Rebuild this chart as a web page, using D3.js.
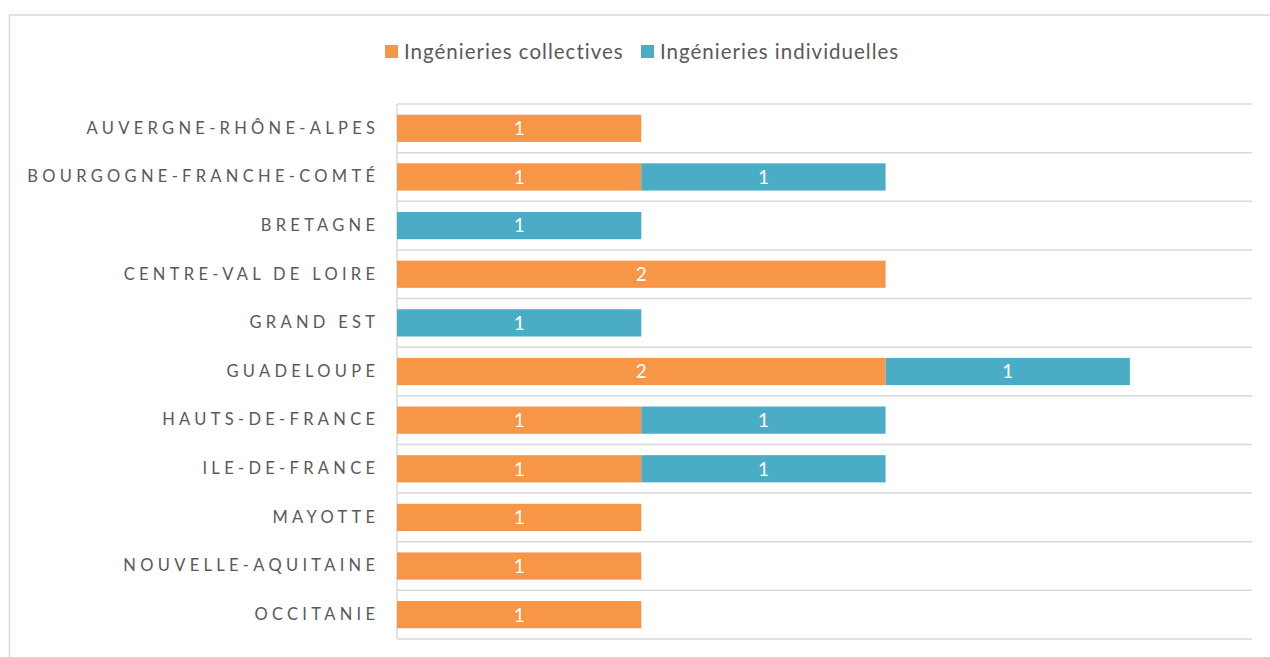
<!doctype html>
<html lang="fr">
<head>
<meta charset="UTF-8">
<title>Ingénieries par région</title>
<style>
  body { margin: 0; background: #fff; }
  svg text { font-family: Lato, "Open Sans", sans-serif; }
</style>
</head>
<body>
<div class="container"></div>
<script src="https://d3js.org/d3.v7.min.js"></script>
<script>
  const regions = ['AUVERGNE-RHÔNE-ALPES', 'BOURGOGNE-FRANCHE-COMTÉ', 'BRETAGNE', 'CENTRE-VAL DE LOIRE',
    'GRAND EST', 'GUADELOUPE', 'HAUTS-DE-FRANCE', 'ILE-DE-FRANCE', 'MAYOTTE', 'NOUVELLE-AQUITAINE', 'OCCITANIE'];
  const collectives = [1, 1, 0, 2, 0, 2, 1, 1, 1, 1, 1];
  const individuelles = [0, 1, 1, 0, 1, 1, 1, 1, 0, 0, 0];
  const seriesNames = ['Ingénieries collectives', 'Ingénieries individuelles'];
  const colors = ['#F79646', '#4BACC6'];

  const W = 1270, H = 657;
  const plot = { left: 397, right: 1252, top: 104, bottom: 639 };

  const svg = d3.select('.container').append('svg')
    .attr('width', W).attr('height', H);

  // outer frame (only top and left visible)
  svg.append('line').attr('x1', 9).attr('x2', W).attr('y1', 15).attr('y2', 15)
    .attr('stroke', '#d9d9d9').attr('stroke-width', 1.5);
  svg.append('line').attr('x1', 9.5).attr('x2', 9.5).attr('y1', 15).attr('y2', H)
    .attr('stroke', '#d9d9d9').attr('stroke-width', 1.5);

  const x = d3.scaleLinear().domain([0, 3.5]).range([plot.left, plot.right]);
  const y = d3.scaleBand().domain(regions).range([plot.top, plot.bottom]).paddingInner(0.44).paddingOuter(0.22);

  // horizontal separators between categories
  const lines = d3.range(regions.length + 1).map(i => plot.top + i * (plot.bottom - plot.top) / regions.length);
  svg.append('g').selectAll('line').data(lines).enter().append('line')
    .attr('x1', plot.left).attr('x2', plot.right)
    .attr('y1', d => d).attr('y2', d => d)
    .attr('stroke', '#d9d9d9').attr('stroke-width', 1.5);
  svg.append('line').attr('x1', plot.left).attr('x2', plot.left)
    .attr('y1', plot.top).attr('y2', plot.bottom)
    .attr('stroke', '#d9d9d9').attr('stroke-width', 1.5);

  const data = regions.map((r, i) => ({ region: r, c: collectives[i], ind: individuelles[i] }));
  const stacked = d3.stack().keys(['c', 'ind'])(data);

  const groups = svg.append('g').selectAll('g').data(stacked).enter().append('g')
    .attr('fill', (d, i) => colors[i]);

  groups.selectAll('rect').data(d => d.filter(p => p[1] > p[0])).enter().append('rect')
    .attr('x', d => x(d[0]))
    .attr('y', d => y(d.data.region))
    .attr('width', d => x(d[1]) - x(d[0]))
    .attr('height', y.bandwidth());

  groups.selectAll('text').data(d => d.filter(p => p[1] > p[0])).enter().append('text')
    .attr('x', d => (x(d[0]) + x(d[1])) / 2)
    .attr('y', d => y(d.data.region) + y.bandwidth() / 2)
    .attr('dy', '0.36em')
    .attr('text-anchor', 'middle')
    .attr('fill', '#fff')
    .style('font-size', '19px')
    .text(d => d[1] - d[0]);

  // category labels
  const yAxis = svg.append('g')
    .attr('transform', `translate(${plot.left},0)`)
    .call(d3.axisLeft(y).tickSize(0).tickPadding(22));
  yAxis.select('.domain').remove();
  yAxis.selectAll('text')
    .attr('fill', '#595959')
    .style('font-size', '16.5px')
    .style('letter-spacing', '4.3px')
    .attr('dx', '4.3px');

  // legend
  const legendItems = [{ x: 385, tx: 404 }, { x: 641, tx: 660 }];
  const legend = svg.append('g');
  legendItems.forEach((item, i) => {
    legend.append('rect').attr('x', item.x).attr('y', 45).attr('width', 13).attr('height', 13).attr('fill', colors[i]);
    legend.append('text').attr('x', item.tx).attr('y', 52).attr('dy', '0.36em')
      .attr('fill', '#595959').style('font-size', '20.5px').style('letter-spacing', '1px')
      .text(seriesNames[i]);
  });
</script>
</body>
</html>
